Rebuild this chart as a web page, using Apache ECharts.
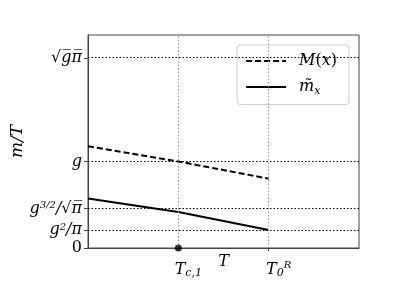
<!DOCTYPE html>
<html><head><meta charset="utf-8">
<script src="https://cdn.jsdelivr.net/npm/echarts@6/dist/echarts.min.js"></script>
<style>html,body{margin:0;padding:0;background:#fff}#c{width:399px;height:299px}</style>
</head><body><div id="c"></div>
<script>
// x positions (T) and series values (m/T)
var xValues = [0, 1, 2];
var mDashed = [0.765, 0.650, 0.521];   // M(x)
var mSolid  = [0.371, 0.271, 0.1345];  // m~_x
// y tick values: 0, g^2/pi, g^{3/2}/sqrt(pi), g, sqrt(g pi)   (g ~ 0.65)
var yTickValues = [0, 0.1345, 0.2957, 0.65, 1.429];
var yTickLabels = ['{n|0}', '{i|g}{sp|2}{i|/π}', '{i|g}{sp|3/2}{i|/√π̅}', '{i|g}', '{n|√}{i|g̅π̅}'];
var xTickValues = [1, 2];
var xTickLabels = ['{i|T}{sb|c,1}', '{i|T}{sb|0}{sp|R}'];
var markerPoint = [[1, 0]];

var F = 'DejaVu Serif';
var rich = {
  i: {fontFamily: F, fontStyle: 'italic', fontSize: 16, color: '#000'},
  n: {fontFamily: F, fontSize: 16, color: '#000'},
  sp: {fontFamily: F, fontStyle: 'italic', fontSize: 10, color: '#000', verticalAlign: 'top', lineHeight: 10, padding: [0,0,8,0]},
  sb: {fontFamily: F, fontStyle: 'italic', fontSize: 11, color: '#000', verticalAlign: 'bottom', padding: [8,0,0,0]}
};

function zip(xs, ys){ return xs.map(function(x,i){return [x, ys[i]];}); }

var chart = echarts.init(document.getElementById('c'), null, {renderer: 'canvas'});
chart.setOption({
  animation: false,
  backgroundColor: '#fff',
  grid: {left: 88, right: 40, top: 35, bottom: 51, show: true, borderColor: '#444', borderWidth: 1},
  legend: {
    right: 50, top: 45, orient: 'vertical', itemWidth: 40, itemHeight: 10, itemGap: 10,
    padding: [8, 12, 8, 8],
    backgroundColor: 'rgba(255,255,255,0.85)', borderColor: '#ccc', borderWidth: 1, borderRadius: 3,
    itemStyle: {opacity: 0},
    data: ['M(x)', 'm~x'],
    formatter: function(n){ return n === 'M(x)' ? '{i|M}{n|(}{i|x}{n|)}' : '{i|m̃}{sb|x}'; },
    textStyle: {rich: {
      i: {fontFamily: F, fontStyle: 'italic', fontSize: 16, color: '#000'},
      n: {fontFamily: F, fontSize: 16, color: '#000'},
      sb: {fontFamily: F, fontStyle: 'italic', fontSize: 11, color: '#000', verticalAlign: 'bottom', padding: [8,0,0,0]}
    }, padding: [0,0,0,8]}
  },
  xAxis: {
    type: 'value', min: 0, max: 3,
    name: 'T', nameLocation: 'middle', nameGap: 6, nameMoveOverlap: false,
    nameTextStyle: {fontFamily: F, fontStyle: 'italic', fontSize: 16, color: '#000'},
    axisLine: {show: true, onZero: false, lineStyle: {color: '#444'}},
    axisTick: {show: true, length: 3, customValues: xTickValues, lineStyle: {color: '#444'}},
    axisLabel: {customValues: xTickValues, margin: 12, padding: [0, 0, 0, 20],
      formatter: function(v){ return xTickLabels[xTickValues.indexOf(v)]; }, rich: rich},
    splitLine: {show: false}
  },
  yAxis: {
    type: 'value', min: 0, max: 1.6,
    name: 'm/T', nameLocation: 'middle', nameRotate: 90, nameGap: 62, nameMoveOverlap: false,
    nameTextStyle: {fontFamily: F, fontStyle: 'italic', fontSize: 17, color: '#000'},
    axisLine: {show: true, lineStyle: {color: '#444'}},
    axisTick: {show: true, length: 4, customValues: yTickValues, lineStyle: {color: '#444'}},
    axisLabel: {customValues: yTickValues, margin: 6,
      formatter: function(v){ return yTickLabels[yTickValues.indexOf(v)]; }, rich: rich},
    splitLine: {show: false}
  },
  series: [
    {
      name: 'M(x)', type: 'line', data: zip(xValues, mDashed), symbol: 'none',
      lineStyle: {color: '#000', width: 2, type: [6, 3]}, itemStyle: {color: '#000'},
      markLine: {
        silent: true, symbol: 'none', label: {show: false},
        lineStyle: {color: '#000', type: [1.5, 2], width: 1},
        data: yTickValues.slice(1).map(function(v){ return {yAxis: v}; })
      }
    },
    {
      name: 'm~x', type: 'line', data: zip(xValues, mSolid), symbol: 'none',
      lineStyle: {color: '#000', width: 2}, itemStyle: {color: '#000'},
      markLine: {
        silent: true, symbol: 'none', label: {show: false},
        lineStyle: {color: '#999', type: [1.5, 2], width: 1},
        data: xTickValues.map(function(v){ return {xAxis: v}; })
      }
    },
    {
      type: 'scatter', data: markerPoint, symbolSize: 7, clip: false,
      itemStyle: {color: '#000'}, z: 5
    }
  ]
});
</script></body></html>
